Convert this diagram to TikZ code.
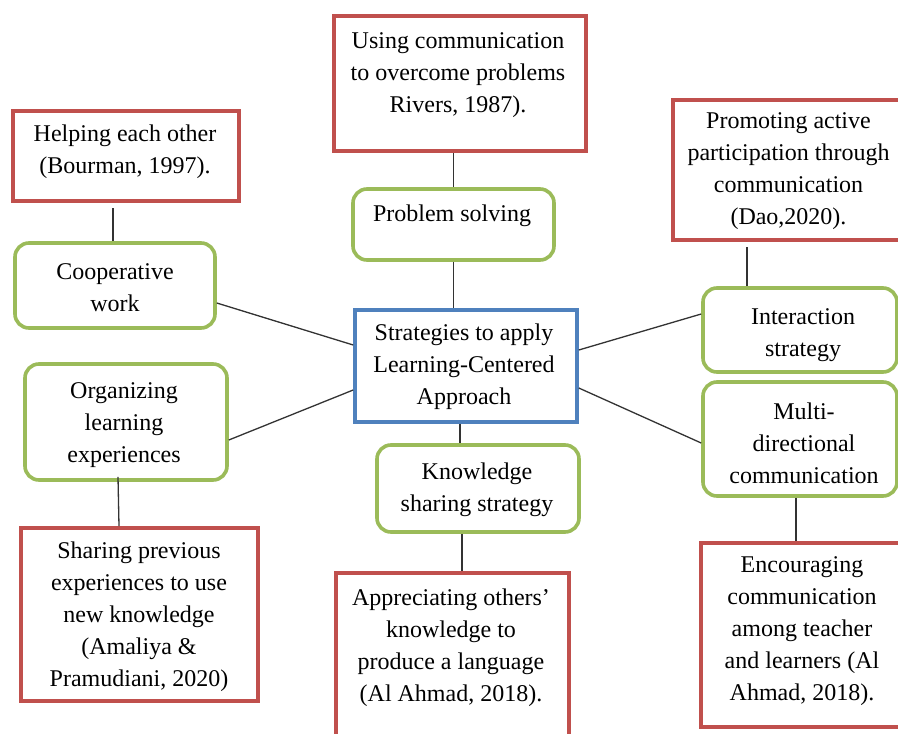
\documentclass[tikz,border=0pt]{standalone}
\usepackage{fontspec}
\setmainfont{Liberation Serif}
\usetikzlibrary{calc}
\definecolor{boxred}{HTML}{C0504D}
\definecolor{boxgreen}{HTML}{9BBB59}
\definecolor{boxblue}{HTML}{4F81BD}
\definecolor{wirecol}{HTML}{333333}
\begin{document}
\begin{tikzpicture}[x=1pt,y=-1pt,
  cite/.style={rectangle, draw=boxred, line width=3.6pt, fill=white, inner sep=0pt},
  idea/.style={rectangle, rounded corners=14pt, draw=boxgreen, line width=3.6pt, fill=white, inner sep=0pt},
  hub/.style={rectangle, draw=boxblue, line width=3.6pt, fill=white, inner sep=0pt},
  txt/.style={align=center, inner sep=0pt, font=\fontsize{24}{32}\selectfont},
  wire/.style={draw=wirecol, line width=1.3pt}]
\useasboundingbox (0,0) rectangle (898,734);
\clip (0,0) rectangle (898,734);
\fill[white] (0,0) rectangle (898,734);

% hub
\node[hub, minimum width=222pt, minimum height=112pt] (hubbox) at (466,366) {};
\node[txt] (hubtxt) at (464,367) {Strategies to apply\\Learning-Centered\\Approach};

% strategies (green)
\node[idea, minimum width=201pt, minimum height=71pt] (prob) at (453.5,224.5) {};
\node[txt] (probtxt) at (452,216) {Problem solving};
\node[idea, minimum width=200pt, minimum height=85pt] (coop) at (115,285.5) {};
\node[txt] (cooptxt) at (115,288) {Cooperative\\work};
\node[idea, minimum width=202pt, minimum height=116pt] (org) at (126,422) {};
\node[txt] (orgtxt) at (124,425) {Organizing\\learning\\experiences};
\node[idea, minimum width=202pt, minimum height=87pt] (know) at (478,488.5) {};
\node[txt] (knowtxt) at (477,489.5) {Knowledge\\sharing strategy};
\node[idea, minimum width=194pt, minimum height=84pt] (inter) at (800,330) {};
\node[txt] (intertxt) at (803,335.5) {Interaction\\strategy};
\node[idea, minimum width=194pt, minimum height=114pt] (multi) at (800,439) {};
\node[txt] (multitxt) at (804,443.5) {Multi-\\directional\\communication};

% references (red)
\node[cite, minimum width=252pt, minimum height=135pt] (rtop) at (460,83.5) {};
\node[txt] (rtoptxt) at (458,75.5) {Using communication\\to overcome problems\\Rivers, 1987).};
\node[cite, minimum width=226pt, minimum height=90pt] (rhelp) at (126,156) {};
\node[txt] (rhelptxt) at (125,152) {Helping each other\\(Bourman, 1997).};
\node[cite, minimum width=232pt, minimum height=140pt] (rprom) at (789,170) {};
\node[txt] (rpromtxt) at (788.5,171.5) {Promoting active\\participation through\\communication\\(Dao,2020).};
\node[cite, minimum width=237pt, minimum height=173pt] (rshare) at (139.5,614.5) {};
\node[txt] (rsharetxt) at (139,616.5) {Sharing previous\\experiences to use\\new knowledge\\(Amaliya \&\\Pramudiani, 2020)};
\node[cite, minimum width=233pt, minimum height=177pt] (rappr) at (452.5,661.5) {};
\node[txt] (rapprtxt) at (451,648) {Appreciating others'\\knowledge to\\produce a language\\(Al Ahmad, 2018).};
\node[cite, minimum width=204pt, minimum height=184pt] (renc) at (803,635) {};
\node[txt] (renctxt) at (802,631.5) {Encouraging\\communication\\among teacher\\and learners (Al\\Ahmad, 2018).};

% hub to strategies
\draw[wire] ($(coop.east)+(0,17.5)$) -- ($(hubbox.west)+(0,-21)$);
\draw[wire] ($(org.east)+(0,18)$) -- ($(hubbox.west)+(0,24)$);
\draw[wire] ($(hubbox.east)+(0,-16)$) -- ($(inter.west)+(0,-16)$);
\draw[wire] ($(hubbox.east)+(0,22)$) -- ($(multi.west)+(0,4)$);
\draw[wire] (prob.south) -- (prob.south |- hubbox.north);
\draw[wire] ($(hubbox.south)+(-6,0)$) -- ($(know.north)+(-18,0)$);

% strategies to references
\draw[wire] (prob.north) -- (prob.north |- rtop.south);
\draw[wire] ($(coop.north)+(-2,0)$) -- ($(coop.north |- rhelp.south)+(-2,5)$);
\draw[wire] ($(inter.north)+(-53,0)$) -- ($(inter.north |- rprom.south)+(-53,5)$);
\draw[wire] ($(org.south)+(-8,-5)$) -- ($(org.south |- rshare.north)+(-7,0)$);
\draw[wire] ($(know.south)+(-16,0)$) -- ($(know.south |- rappr.north)+(-16,0)$);
\draw[wire] ($(multi.south)+(-4,0)$) -- ($(multi.south |- renc.north)+(-4,0)$);
\end{tikzpicture}
\end{document}
